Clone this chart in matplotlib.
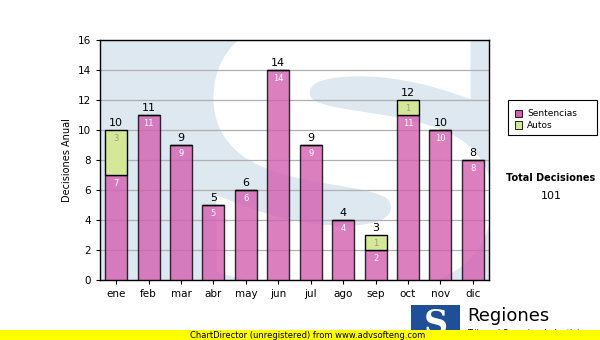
import matplotlib.pyplot as plt
import numpy as np
from matplotlib.patches import Rectangle, PathPatch
from matplotlib.textpath import TextPath
from matplotlib.font_manager import FontProperties
from matplotlib.transforms import Affine2D

meses = ["ene", "feb", "mar", "abr", "may", "jun", "jul", "ago", "sep", "oct", "nov", "dic"]
sentencias = [7, 11, 9, 5, 6, 14, 9, 4, 2, 11, 10, 8]
autos = [3, 0, 0, 0, 0, 0, 0, 0, 1, 1, 0, 0]

PINK = "#d35fb0"
GREEN = "#d4e898"
BG = "#dde8f1"

fig = plt.figure(figsize=(6, 3.4), dpi=100)
ax = fig.add_axes([100 / 600, 60 / 340, 389 / 600, 240 / 340])
ax.set_facecolor(BG)

# big white "S" watermark behind the bars, stretched to a box in data units
glyph = TextPath((0, 0), "S", size=1,
                 prop=FontProperties(family="DejaVu Sans", weight="bold"))
ext = glyph.get_extents()
bx0, bx1, by0, by1 = 3.3, 11.3, -0.2, 17.4
fit = (Affine2D().translate(-ext.x0, -ext.y0)
       .scale((bx1 - bx0) / ext.width, (by1 - by0) / ext.height)
       .translate(bx0, by0))
ax.add_patch(PathPatch(glyph, transform=fit + ax.transData, facecolor="white",
                       edgecolor="white", linewidth=14, zorder=0.5))

x = np.arange(len(meses))
totales = [s + a for s, a in zip(sentencias, autos)]
width = 0.68
ax.bar(x, sentencias, width, color=PINK, alpha=0.8, edgecolor="black",
       linewidth=1.0, zorder=3)
ax.bar(x, autos, width, bottom=sentencias, color=GREEN, edgecolor="black",
       linewidth=1.0, zorder=3)

for i in x:
    if sentencias[i]:
        ax.text(i, sentencias[i] - 0.25, str(sentencias[i]), ha="center",
                va="top", fontsize=6, color="white", zorder=4)
    if autos[i]:
        ax.text(i, totales[i] - 0.25, str(autos[i]), ha="center", va="top",
                fontsize=6, color="#9a9a8a", zorder=4)
    ax.text(i, totales[i] + 0.1, str(totales[i]), ha="center", va="bottom",
            fontsize=8, color="black", zorder=4)

ax.set_xlim(-0.5, 11.5)
ax.set_ylim(0, 16)
ax.set_yticks(range(0, 17, 2))
ax.set_xticks(x)
ax.set_xticklabels(meses)
ax.tick_params(labelsize=7.5, length=3, width=0.8)
ax.yaxis.grid(True, color="#b0b0b0", linewidth=0.9, zorder=1)
ax.set_axisbelow(True)
ax.set_ylabel("Decisiones Anual", fontsize=7)
for sp in ax.spines.values():
    sp.set_linewidth(1.0)

# legend box
fig.patches.append(Rectangle((508 / 600, 1 - 135 / 340), 89 / 600, 35 / 340,
                             transform=fig.transFigure, facecolor="white",
                             edgecolor="black", linewidth=0.8))
for k, (lab, col) in enumerate([("Sentencias", PINK), ("Autos", GREEN)]):
    yy = 1 - (114 + k * 11) / 340
    fig.patches.append(Rectangle((515 / 600, yy - 3.5 / 340), 7 / 600, 7 / 340,
                                 transform=fig.transFigure, facecolor=col,
                                 edgecolor="black", linewidth=0.6))
    fig.text(527 / 600, yy, lab, fontsize=6.5, va="center", ha="left")

fig.text(551 / 600, 1 - 178 / 340, "Total Decisiones", fontsize=7,
         fontweight="bold", ha="center", va="center")
fig.text(551 / 600, 1 - 196 / 340, str(sum(totales)), fontsize=8,
         ha="center", va="center")

# logo at the bottom right
fig.patches.append(Rectangle((411 / 600, 0), 49 / 600, 35 / 340,
                             transform=fig.transFigure, facecolor="#1f4f96",
                             edgecolor="none"))
fig.text(436 / 600, 16 / 340, "S", fontsize=24, fontweight="bold",
         family="DejaVu Serif", color="white", ha="center", va="center")
fig.text(467 / 600, 1 - 316 / 340, "Regiones", fontsize=13, ha="left",
         va="center")
fig.text(467 / 600, 1 - 333 / 340, "Tribunal Superior de Justicia",
         fontsize=6, ha="left", va="center")

# unregistered banner
fig.patches.append(Rectangle((0, 0), 1, 10 / 340, transform=fig.transFigure,
                             facecolor="#ffff00", edgecolor="none", zorder=5))
fig.text(190 / 600, 5 / 340, "ChartDirector (unregistered) from www.advsofteng.com",
         fontsize=6, ha="left", va="center", zorder=6)

fig.savefig("out.png", dpi=100)
